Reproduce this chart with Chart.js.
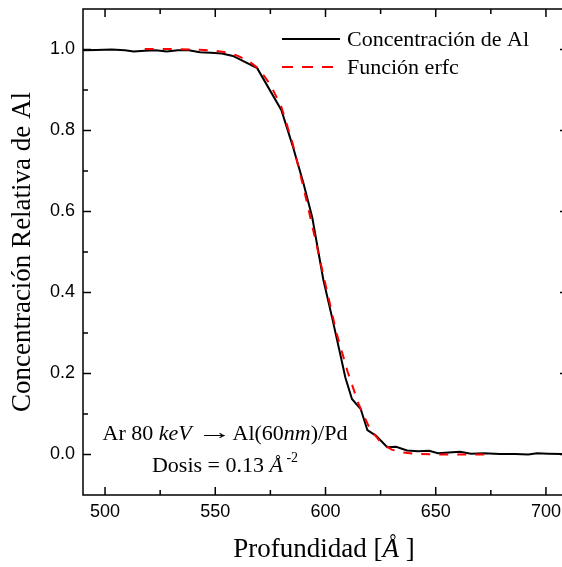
<!DOCTYPE html>
<html>
<head>
<meta charset="utf-8">
<script src="https://cdn.jsdelivr.net/npm/chart.js@4.4.1/dist/chart.umd.min.js"></script>
<style>
  html, body { margin: 0; padding: 0; background: #fff; overflow: hidden; }
  canvas { display: block; }
</style>
</head>
<body>
<canvas id="perfilAl" width="568" height="567"></canvas>
<script>
// datos
const concDepth = [490, 496, 503, 509, 513, 518, 523, 528, 533, 538, 543, 548, 553, 558, 569, 580, 585, 590, 594, 599, 603, 607, 609, 612, 616, 619, 623, 628, 632, 637, 642, 647, 651, 656, 661, 666, 672, 679, 686, 692, 696, 701, 707, 712];
const concValues = [0.998, 0.999, 1.000, 0.998, 0.995, 0.997, 0.998, 0.995, 0.998, 0.998, 0.993, 0.992, 0.990, 0.984, 0.954, 0.850, 0.764, 0.670, 0.585, 0.432, 0.338, 0.240, 0.190, 0.137, 0.112, 0.060, 0.046, 0.018, 0.019, 0.010, 0.008, 0.009, 0.003, 0.005, 0.007, 0.002, 0.003, 0.001, 0.001, 0.000, 0.003, 0.002, 0.001, 0.001];
const erfcDepth = [518, 530, 540, 545, 550, 555, 560, 565, 570, 575, 580, 585, 590, 595, 600, 605, 610, 615, 620, 625, 630, 635, 640, 650, 660, 672];
const erfcValues = [1.001, 1.001, 1.000, 0.999, 0.997, 0.993, 0.985, 0.972, 0.951, 0.913, 0.858, 0.770, 0.660, 0.540, 0.420, 0.300, 0.205, 0.125, 0.065, 0.030, 0.012, 0.005, 0.002, 0.000, 0.000, 0.000];
const seriesNames = ['Concentración de Al', 'Función erfc'];

const xTicks = [500, 550, 600, 650, 700];
const xMinorTicks = [525, 575, 625, 675];
const yTicks = [0, 0.2, 0.4, 0.6, 0.8, 1.0];
const yMinorTicks = [0.1, 0.3, 0.5, 0.7, 0.9];

const serif = '"Liberation Serif", "Times New Roman", serif';
const sans = '"Liberation Sans", Arial, sans-serif';

function toPoints(xs, ys) {
  return xs.map((x, i) => ({ x: x, y: ys[i] }));
}

// texto con partes en cursiva / superindice / flecha
function drawRich(ctx, parts, cx, y, size) {
  const fontOf = (st) => {
    if (st === 'i') return 'italic ' + size + 'px ' + serif;
    if (st === 'sup') return Math.round(size * 0.62) + 'px ' + serif;
    return size + 'px ' + serif;
  };
  const stretch = (st) => (st === 'arrow' ? 1.6 : 1);
  let total = 0;
  parts.forEach(p => { ctx.font = fontOf(p[1]); total += ctx.measureText(p[0]).width * stretch(p[1]); });
  let x = cx - total / 2;
  ctx.textAlign = 'left';
  ctx.textBaseline = 'alphabetic';
  ctx.fillStyle = '#000';
  parts.forEach(p => {
    ctx.font = fontOf(p[1]);
    const w = ctx.measureText(p[0]).width;
    if (p[1] === 'arrow') {
      ctx.save();
      ctx.translate(x, y - 1);
      ctx.scale(1.6, 1);
      ctx.fillText(p[0], 0, 0);
      ctx.restore();
    } else {
      const dy = p[1] === 'sup' ? -size * 0.45 : 0;
      ctx.fillText(p[0], x, y + dy);
    }
    x += w * stretch(p[1]);
  });
}

const framePlugin = {
  id: 'framePlugin',
  afterDatasetsDraw(chart) {
    const ctx = chart.ctx;
    const a = chart.chartArea;
    const xs = chart.scales.x, ys = chart.scales.y;
    ctx.save();
    ctx.strokeStyle = '#000';
    ctx.lineWidth = 1.5;
    ctx.strokeRect(a.left, a.top, a.right - a.left, a.bottom - a.top);
    const tickX = (v, len) => {
      const p = xs.getPixelForValue(v);
      ctx.beginPath();
      ctx.moveTo(p, a.bottom); ctx.lineTo(p, a.bottom - len);
      ctx.moveTo(p, a.top); ctx.lineTo(p, a.top + len);
      ctx.stroke();
    };
    const tickY = (v, len) => {
      const p = ys.getPixelForValue(v);
      ctx.beginPath();
      ctx.moveTo(a.left, p); ctx.lineTo(a.left + len, p);
      ctx.moveTo(a.right, p); ctx.lineTo(a.right - len, p);
      ctx.stroke();
    };
    xTicks.forEach(v => tickX(v, 8));
    xMinorTicks.forEach(v => tickX(v, 5));
    yTicks.forEach(v => tickY(v, 8));
    yMinorTicks.forEach(v => tickY(v, 5));
    ctx.restore();
  },
  afterDraw(chart) {
    const ctx = chart.ctx;
    ctx.save();
    // leyenda
    const rows = [39, 67];
    chart.data.datasets.forEach((ds, i) => {
      ctx.beginPath();
      ctx.strokeStyle = ds.borderColor;
      ctx.lineWidth = ds.borderWidth;
      ctx.setLineDash(ds.borderDash ? [11, 9] : []);
      ctx.moveTo(282, rows[i]);
      ctx.lineTo(340, rows[i]);
      ctx.stroke();
      ctx.setLineDash([]);
      ctx.fillStyle = '#000';
      ctx.font = '22px ' + serif;
      ctx.textAlign = 'left';
      ctx.textBaseline = 'alphabetic';
      ctx.fillText(ds.label, 347, rows[i] + 7);
    });
    // anotaciones
    drawRich(ctx, [['Ar 80 ', ''], ['keV', 'i'], [' ', ''], ['\u2192', 'arrow'], ['Al(60', ''], ['nm', 'i'], [')/Pd', '']], 225, 440, 22);
    drawRich(ctx, [['Dosis = 0.13 ', ''], ['\u00c5', 'i'], [' -2', 'sup']], 225, 472, 22);
    // titulo eje x
    drawRich(ctx, [['Profundidad [', ''], ['\u00c5', 'i'], [' ]', '']], 324, 557, 27);
    ctx.restore();
  }
};

function noPadding(s) {
  s.paddingTop = 0;
  s.paddingBottom = 0;
  s.paddingLeft = 0;
  s.paddingRight = 0;
}

const ctx = document.getElementById('perfilAl');
const perfilChart = new Chart(ctx, {
  type: 'line',
  data: {
    datasets: [{
      label: seriesNames[0],
      data: toPoints(concDepth, concValues),
      borderColor: '#000000',
      borderWidth: 2,
      pointRadius: 0,
      tension: 0,
      order: 1
    }, {
      label: seriesNames[1],
      data: toPoints(erfcDepth, erfcValues),
      borderColor: '#ff0000',
      borderWidth: 2,
      borderDash: [9, 9],
      pointRadius: 0,
      tension: 0,
      order: 0
    }]
  },
  options: {
    responsive: false,
    animation: false,
    devicePixelRatio: 1,
    layout: { autoPadding: false, padding: { top: 9, right: 0, left: 0, bottom: 0 } },
    plugins: {
      legend: { display: false },
      tooltip: { enabled: false }
    },
    scales: {
      x: {
        type: 'linear',
        min: 490,
        max: 710,
        afterBuildTicks: (s) => { s.ticks = xTicks.map(v => ({ value: v })); },
        afterFit: (s) => { s.height = 72; noPadding(s); },
        grid: { display: false, drawTicks: false },
        border: { display: false },
        ticks: {
          color: '#000',
          font: { family: sans, size: 18 },
          padding: 6,
          maxRotation: 0,
          callback: (v) => String(v)
        },
        title: { display: false }
      },
      y: {
        type: 'linear',
        min: -0.1,
        max: 1.1,
        afterBuildTicks: (s) => { s.ticks = yTicks.map(v => ({ value: v })); },
        afterFit: (s) => { s.width = 83; noPadding(s); },
        grid: { display: false, drawTicks: false },
        border: { display: false },
        ticks: {
          color: '#000',
          font: { family: sans, size: 18 },
          padding: 8,
          callback: (v) => Number(v).toFixed(1)
        },
        title: {
          display: true,
          text: 'Concentración Relativa de Al',
          color: '#000',
          font: { family: serif, size: 27 },
          padding: { top: 7, bottom: 0 }
        }
      }
    }
  },
  plugins: [framePlugin]
});
</script>
</body>
</html>
